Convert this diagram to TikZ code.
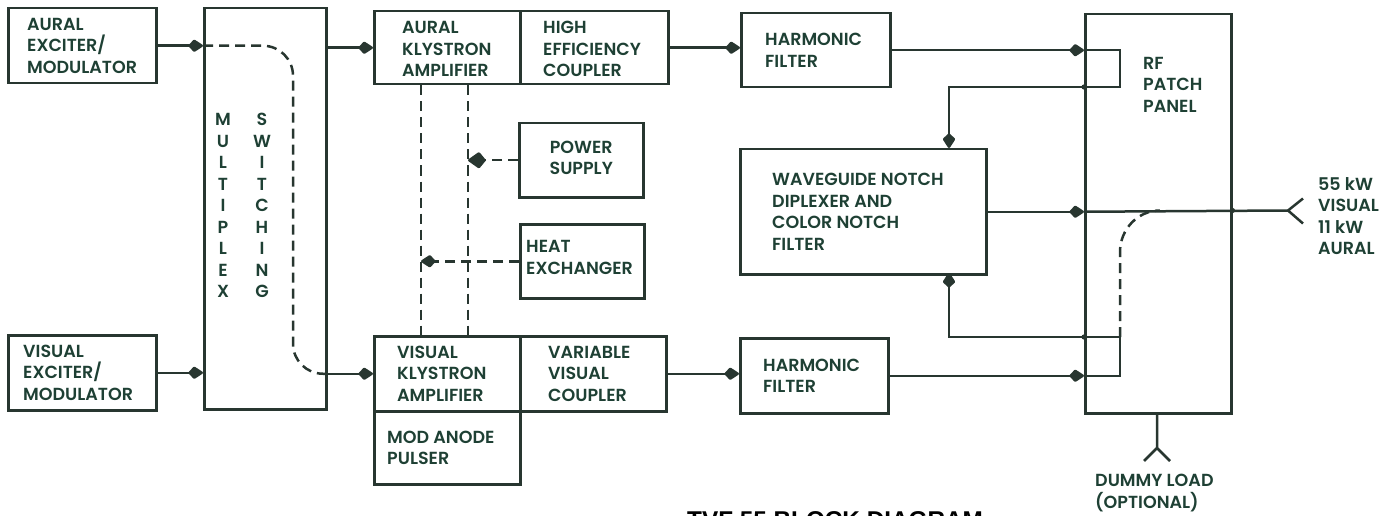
\documentclass[tikz,border=0pt]{standalone}
\usepackage{fontspec}
\setmainfont{Poppins}[UprightFont=* SemiBold]
\newfontfamily\capfont{Liberation Sans}[UprightFont=* Bold]
\usetikzlibrary{arrows.meta}
\definecolor{lc}{RGB}{40,54,48}
\definecolor{tc}{RGB}{30,64,52}
\newcommand\boxfont{\fontsize{17.5}{21.5}\selectfont}
\newcommand\muxfont{\fontsize{17.5}{21.9}\selectfont}
\tikzset{
  blk/.style={draw=lc, line width=2.5pt, anchor=north west, inner sep=0pt},
  txt/.style={inner sep=0pt, align=left, text=tc, font=\boxfont},
  conn/.style={draw=lc, line width=2.5pt},
  arr/.style={conn, -{Kite[length=16pt,width=13pt,inset=6pt,round]}},
  dsh/.style={conn, dash pattern=on 10pt off 6pt},
}
\begin{document}
\begin{tikzpicture}[x=1pt,y=-1pt]
\useasboundingbox (0,0) rectangle (1395,516);
% boxes
\node[blk, minimum width=148pt, minimum height=75pt] (AE) at (7,7) {};
\node[blk, minimum width=148pt, minimum height=75pt] (VE) at (7,334) {};
\node[blk, minimum width=122pt, minimum height=401pt] (MUX) at (203,7) {};
\node[blk, minimum width=146pt, minimum height=73pt] (AK) at (373,10) {};
\node[blk, minimum width=148pt, minimum height=73pt] (HC) at (519,10) {};
\node[blk, minimum width=124pt, minimum height=74pt] (PS) at (518,122) {};
\node[blk, minimum width=124pt, minimum height=74pt] (HX) at (519,223) {};
\node[blk, minimum width=146pt, minimum height=75pt] (VK) at (373,335) {};
\node[blk, minimum width=146pt, minimum height=75pt] (VC) at (519,335) {};
\node[blk, minimum width=146pt, minimum height=73pt] (MA) at (373,410) {};
\node[blk, minimum width=149pt, minimum height=74pt] (HF1) at (740,12) {};
\node[blk, minimum width=148pt, minimum height=75pt] (HF2) at (739,337) {};
\node[blk, minimum width=246pt, minimum height=125pt] (WG) at (739,148) {};
\node[blk, minimum width=146pt, minimum height=399pt] (RF) at (1084,13) {};
% texts
\node[txt, anchor=west] (AEt) at ([xshift=20pt]AE.west) {AURAL\\EXCITER/\\MODULATOR};
\node[txt, anchor=west] (VEt) at ([xshift=16pt]VE.west) {VISUAL\\EXCITER/\\MODULATOR};
\node[txt, align=center] (mx1) at (223,205.5) {\muxfont M\\U\\L\\T\\I\\P\\L\\E\\X};
\node[txt, align=center] (mx2) at (262,205.5) {\muxfont S\\W\\I\\T\\C\\H\\I\\N\\G};
\node[txt, anchor=west] (AKt) at ([xshift=29pt,yshift=-1.5pt]AK.west) {AURAL\\KLYSTRON\\AMPLIFIER};
\node[txt, anchor=west] (HCt) at ([xshift=24pt,yshift=-1.5pt]HC.west) {HIGH\\EFFICIENCY\\COUPLER};
\node[txt, align=center] (PSt) at ([yshift=2.5pt]PS.center) {POWER\\SUPPLY};
\node[txt, anchor=west] (HXt) at ([xshift=7pt,yshift=4pt]HX.west) {HEAT\\EXCHANGER};
\node[txt, anchor=west] (VKt) at ([xshift=24pt]VK.west) {VISUAL\\KLYSTRON\\AMPLIFIER};
\node[txt, anchor=west] (VCt) at ([xshift=29pt]VC.west) {VARIABLE\\VISUAL\\COUPLER};
\node[txt, anchor=west] (MAt) at ([xshift=14pt]MA.west) {MOD ANODE\\PULSER};
\node[txt, anchor=west] (HF1t) at ([xshift=25pt]HF1.west) {HARMONIC\\FILTER};
\node[txt, anchor=west] (HF2t) at ([xshift=24pt]HF2.west) {HARMONIC\\FILTER};
\node[txt, anchor=west] (WGt) at ([xshift=33pt]WG.west) {WAVEGUIDE NOTCH\\DIPLEXER AND\\COLOR NOTCH\\FILTER};
\node[txt, anchor=north west] (RFt) at (1143,57) {RF\\PATCH\\PANEL};
\node[txt, anchor=west] (outt) at (1318,216) {55 kW\\VISUAL\\11 kW\\AURAL};
\node[txt, anchor=north west] (dlt) at (1095,474) {DUMMY LOAD\\(OPTIONAL)};
\node[anchor=north west, inner sep=0pt, font=\capfont\fontsize{24.3}{28}\selectfont, text=black] (cap) at (687,511) {TVF 55 BLOCK DIAGRAM};
% coordinates
\coordinate (pB) at (1120,87);
\coordinate (wgin) at (949,148);
\coordinate (wgout) at (949,273);
\coordinate (pC) at (1120,337);
\coordinate (outv) at (1288,210.5);
\coordinate (dlv) at (1157,448);
\coordinate (mxd) at (293,200);
\coordinate (d1) at (421,200);
\coordinate (d2) at (468,200);
% left connectors
\draw[arr] (AE.east) -- (AE.east -| MUX.west);
\draw[arr] (VE.east) -- (VE.east -| MUX.west);
\draw[arr] (AK.west -| MUX.east) -- (AK.west);
\draw[arr] (VK.west -| MUX.east) -- (VK.west);
\draw[dsh, rounded corners=30pt] (AE.east -| MUX.west) -| (mxd |- VK.west) -- (VK.west -| MUX.east);
\draw[arr] (HC.east) -- (HC.east -| HF1.west);
\draw[arr] (VC.east) -- (VC.east -| HF2.west);
% klystron services
\draw[dsh] (AK.south -| d1) -- (VK.north -| d1);
\draw[dsh] (AK.south -| d2) -- (VK.north -| d2);
\draw[dsh, -{Kite[length=19pt,width=17pt,inset=7pt,round]}] (PS.west) -- (PS.west -| d2);
\draw[dsh, -{Kite[length=16pt,width=13pt,inset=6pt,round]}] (HX.west) -- (HX.west -| d1);
% RF side
\draw[arr] (HF1.east) -- (HF1.east -| RF.west);
\draw[arr] (HF1.east -| RF.west) -| (pB) -| (wgin);
\draw[arr] (WG.east) -- (WG.east -| RF.west);
\draw[conn] (WG.east -| RF.west) -- (outv);
\draw[arr] (HF2.east) -- (HF2.east -| RF.west);
\draw[arr] (HF2.east -| RF.west) -| (pC) -| (wgout);
\draw[dsh] (pC) -- ++(0,-85) to[out=90,in=180] ++(40,-41.5);
\fill[lc] (pB -| RF.west) circle (2.6pt);
\fill[lc] (pC -| RF.west) circle (2.6pt);
\fill[lc] (outv -| RF.east) circle (2.6pt);
% antenna output and dummy load
\draw[conn] (outv) -- ++(15,-12) (outv) -- ++(15,13);
\draw[conn] (RF.south -| dlv) -- (dlv) -- ++(-13,13) (dlv) -- ++(13,13);
\end{tikzpicture}
\end{document}
